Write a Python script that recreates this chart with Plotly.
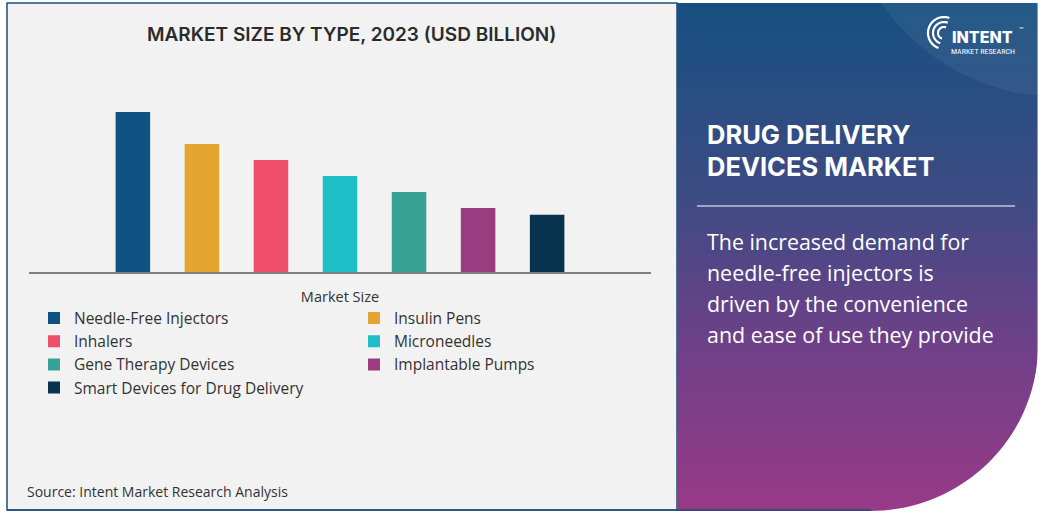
import numpy as np
import plotly.graph_objects as go

# ---------------- data ----------------
categories = ["Market Size"]
series_names = [
    "Needle-Free Injectors",
    "Insulin Pens",
    "Inhalers",
    "Microneedles",
    "Gene Therapy Devices",
    "Implantable Pumps",
    "Smart Devices for Drug Delivery",
]
series_values = [4.0, 3.2, 2.8, 2.4, 2.0, 1.6, 1.43]
series_colors = ["#0d5280", "#e3a52f", "#ef4f6a", "#1dbec8", "#37a195", "#9b3c80", "#08334f"]

chart_title = "MARKET SIZE BY TYPE, 2023 (USD BILLION)"
panel_title_lines = ["DRUG DELIVERY", "DEVICES MARKET"]
panel_text_lines = ["The increased demand for", "needle-free injectors is",
                    "driven by the convenience", "and ease of use they provide"]
source_text = "Source: Intent Market Research Analysis"

# ---------------- geometry helpers ----------------
W, H = 1043, 513
GW = 700  # paper width in px (right margin used to limit legend wrap width)


def X(px):
    return px / GW


def Y(py):
    return 1 - py / H


fig = go.Figure()
for name, val, col in zip(series_names, series_values, series_colors):
    fig.add_trace(go.Bar(x=categories, y=[val], name=name, marker_color=col,
                         marker_line_width=0))

shapes = []
# left panel
shapes.append(dict(type="rect", xref="paper", yref="paper", x0=X(7), x1=X(677), y0=Y(510), y1=Y(3),
                   fillcolor="#f2f2f2", line=dict(color="#1f4e79", width=1.5), layer="below"))

# right panel gradient (stripes)
stops_y = [3, 200, 350, 511]
stops_c = [(22, 80, 128), (62, 75, 132), (112, 64, 136), (152, 58, 135)]
step = 2
for y0 in range(3, 511, step):
    ym = y0 + step / 2
    c = [int(round(np.interp(ym, stops_y, [s[i] for s in stops_c]))) for i in range(3)]
    shapes.append(dict(type="rect", xref="paper", yref="paper", x0=X(677), x1=X(1037.5),
                       y0=Y(min(y0 + step + 0.5, 511)), y1=Y(y0), fillcolor=f"rgb({c[0]},{c[1]},{c[2]})",
                       line=dict(width=0), layer="below"))

# faint highlight arc in top-right corner
cx, cy, r = 1060, -120, 217
angs = np.linspace(np.arcsin((3 - cy) / r), np.arcsin((95 - cy) / r), 30)
pts = [(cx - r * np.cos(a), cy + r * np.sin(a)) for a in angs]
path = "M " + " L ".join(f"{X(x):.5f},{Y(y):.5f}" for x, y in pts)
path += f" L {X(1037.5):.5f},{Y(95):.5f} L {X(1037.5):.5f},{Y(3):.5f} Z"
shapes.append(dict(type="path", xref="paper", yref="paper", path=path,
                   fillcolor="rgba(255,255,255,0.06)", line=dict(width=0), layer="below"))

# white cut at bottom-right corner (quarter ellipse)
ecx, ecy, erx, ery = 870, 345, 168, 166
ts = np.linspace(0, np.pi / 2, 40)
cpts = [(ecx + erx * np.cos(t), ecy + ery * np.sin(t)) for t in ts]
path = f"M {X(1043):.5f},{Y(ecy):.5f} " + " ".join(f"L {X(x):.5f},{Y(y):.5f}" for x, y in cpts)
path += f" L {X(ecx):.5f},{Y(513):.5f} L {X(1043):.5f},{Y(513):.5f} Z"
shapes.append(dict(type="path", xref="paper", yref="paper", path=path,
                   fillcolor="#ffffff", line=dict(width=0), layer="below"))

# bottom border continuing under right panel
shapes.append(dict(type="line", xref="paper", yref="paper", x0=X(7), x1=X(871), y0=Y(510), y1=Y(510),
                   line=dict(color="#1f4e79", width=1.5), layer="below"))

# white rule in right panel
shapes.append(dict(type="line", xref="paper", yref="paper", x0=X(697), x1=X(1015), y0=Y(206), y1=Y(206),
                   line=dict(color="#ffffff", width=1.2)))

# logo arcs
lcx, lcy = 944, 33
for rr in (6, 11, 16):
    pts = [(lcx + rr * np.cos(t), lcy + rr * np.sin(t)) for t in np.linspace(np.radians(110), np.radians(290), 30)]
    path = "M " + " L ".join(f"{X(x):.5f},{Y(y):.5f}" for x, y in pts)
    shapes.append(dict(type="path", xref="paper", yref="paper", path=path,
                       line=dict(color="#ffffff", width=2.2)))

annotations = [
    dict(text=chart_title, x=X(351), y=Y(34), xref="paper", yref="paper", showarrow=False,
         xanchor="center", yanchor="middle",
         font=dict(family="Inter, sans-serif", size=19, color="#2b2b2b", weight=600)),
    dict(text=source_text, x=X(25), y=Y(491), xref="paper", yref="paper", showarrow=False,
         xanchor="left", yanchor="middle",
         font=dict(family="Open Sans, sans-serif", size=14, color="#333333")),
    dict(text="INTENT", x=X(982), y=Y(48.5), xref="paper", yref="paper", showarrow=False,
         xanchor="center", yanchor="bottom",
         font=dict(family="Inter, sans-serif", size=16, color="#ffffff", weight=800)),
    dict(text="MARKET RESEARCH", x=X(983), y=Y(44.5), xref="paper", yref="paper", showarrow=False,
         xanchor="center", yanchor="top",
         font=dict(family="Roboto Condensed, Roboto, sans-serif", size=8, color="#ffffff")),
    dict(text="™", x=X(1021), y=Y(30), xref="paper", yref="paper", showarrow=False,
         xanchor="center", yanchor="middle",
         font=dict(family="Inter, sans-serif", size=7, color="#ffffff")),
]
for i, line in enumerate(panel_title_lines):
    annotations.append(dict(text=line, x=X(705), y=Y(134 + 32 * i), xref="paper", yref="paper",
                            showarrow=False, xanchor="left", yanchor="middle",
                            font=dict(family="Inter, sans-serif", size=25.5, color="#ffffff", weight=700)))
for i, line in enumerate(panel_text_lines):
    annotations.append(dict(text=line, x=X(705), y=Y(241 + 31.3 * i), xref="paper", yref="paper",
                            showarrow=False, xanchor="left", yanchor="middle",
                            font=dict(family="Open Sans, sans-serif", size=21.4, color="#ffffff")))

fig.update_layout(
    width=W, height=H,
    margin=dict(l=0, r=W - GW, t=0, b=0, pad=0),
    paper_bgcolor="#ffffff",
    plot_bgcolor="rgba(0,0,0,0)",
    barmode="group",
    bargap=0.223,
    bargroupgap=0.5,
    shapes=shapes,
    annotations=annotations,
    showlegend=True,
    legend=dict(orientation="h", x=X(34), y=Y(301.5), xanchor="left", yanchor="top",
                xref="paper", yref="paper",
                entrywidth=275, entrywidthmode="pixels", itemwidth=30,
                bgcolor="rgba(0,0,0,0)", traceorder="normal",
                font=dict(family="Open Sans, sans-serif", size=15.5, color="#333333")),
    xaxis=dict(domain=[X(29), X(651)], showline=True, linecolor="#7f7f7f", linewidth=1.5,
               ticks="", showgrid=False, zeroline=False, fixedrange=True,
               ticklabelstandoff=11,
               tickfont=dict(family="Open Sans, sans-serif", size=14.5, color="#333333")),
    yaxis=dict(domain=[Y(272), Y(112)], range=[0, max(series_values)], visible=False,
               showgrid=False, zeroline=False, fixedrange=True),
    hovermode=False,
)

fig.write_html("out.html", config={"displayModeBar": False},
               post_script="document.body.style.margin='0';document.body.style.overflow='hidden';")
